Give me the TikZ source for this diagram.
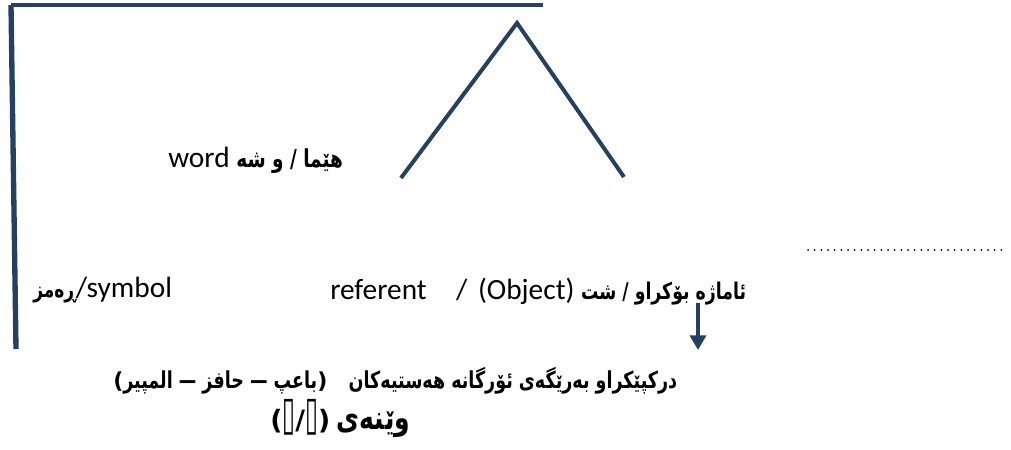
\documentclass[tikz,border=0pt]{standalone}
\usepackage{fontspec}
\usetikzlibrary{arrows.meta}
\TeXXeTstate=1
\newfontfamily\kurdfont[Script=Arabic]{DejaVu Sans}
\newfontfamily\latinfont{Carlito}
\newfontfamily\glyphfont{DejaVu Sans}
\definecolor{framecol}{RGB}{38,64,97}
\newcommand\ku[2][18.5]{\scalebox{0.75}[1]{\kurdfont\bfseries\fontsize{#1}{22}\selectfont\beginR #2\endR}}
\newcommand\pn[2][17]{{\glyphfont\bfseries\fontsize{#1}{22}\selectfont #2}}
\tikzset{
  frameline/.style={draw=framecol,line width=3pt},
  sideline/.style={draw=framecol,line width=4pt},
  pointer/.style={-{Triangle[length=11pt,width=12pt]},draw=framecol,fill=framecol,line width=3pt},
  dotline/.style={draw=black,line width=1.5pt,dash pattern=on 0pt off 5pt,line cap=round},
  txt/.style={inner sep=0pt,anchor=west,font=\latinfont\fontsize{22}{26}\selectfont}
}

\begin{document}
\begin{tikzpicture}[x=0.75pt,y=-0.75pt]
\useasboundingbox (0,0) rectangle (1011,450);
% frame
\coordinate (tl) at (11,5);
\coordinate (tr) at (543,5);
\coordinate (bl) at (16,349);
\draw[frameline] (tl) -- (tr);
\draw[sideline] (tl) -- (bl);

% caret
\coordinate (apex) at (517,23);
\coordinate (legl) at (401,178);
\coordinate (legr) at (624,177);
\draw[frameline] (legl) -- (apex) -- (legr);

\node[txt] (word) at (168,160) {word \ku{هێما / و شە}};
\draw[dotline] (808,250) -- (1005,250);

\node[txt] (symbol) at (33,290) {\ku[17]{ڕەمز}/symbol};
\node[txt] (referent) at (330,292)
{referent\hspace{22pt}/\hspace{8pt}(Object) \ku[17.3]{ئاماژە بۆکراو / شت}};

\coordinate (arrtop) at (698,303);
\coordinate (arrtip) at (698,350);
\draw[pointer] (arrtop) -- (arrtip);

\node[txt] (senses) at (113,381)
{\pn[16.5]{(}\ku[17.5]{باعپ — حافز — المپیر}\pn[16.5]{)}\hspace{16pt}\ku[17.5]{درکپێکراو بەرێگەی ئۆرگانە هەستیەکان}};
\node[txt] (figure) at (270,419)
{\pn[20]{(}{\glyphfont\scalebox{0.8}[1.6]{▯}}\pn[20]{/}{\glyphfont\scalebox{0.8}[1.6]{▯}}\pn[20]{)} \ku[25]{وێنەی}};
\end{tikzpicture}
\end{document}
